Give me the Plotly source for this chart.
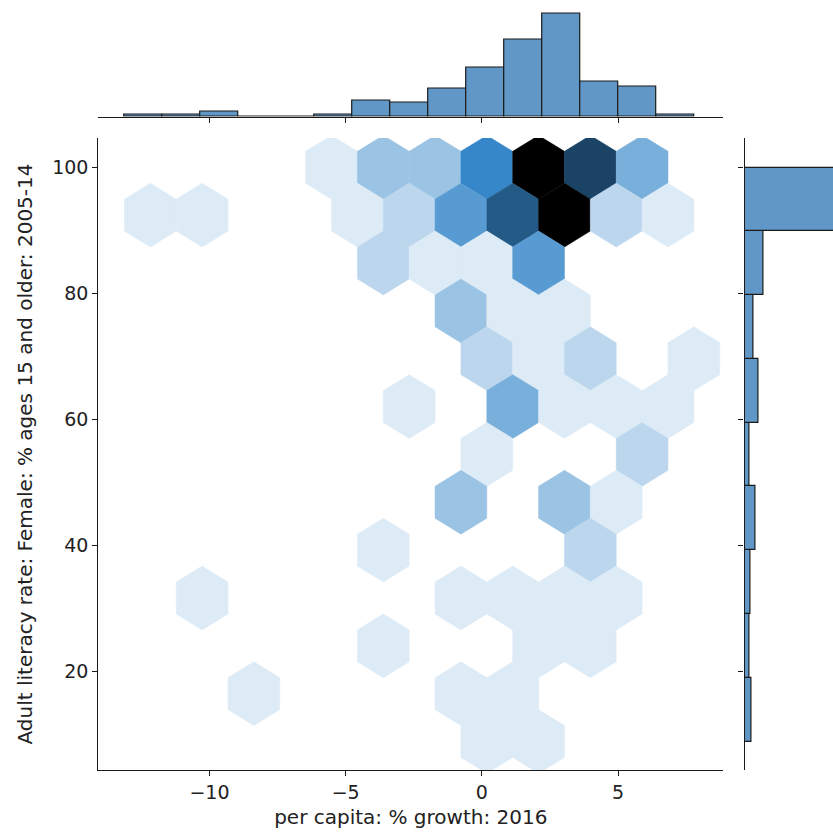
import colorsys
import plotly.graph_objects as go

# ---------------- data ----------------
# Marginal histogram of x (per capita % growth 2016)
x_bin_edges = [-13.12, -11.73, -10.33, -8.94, -7.55, -6.15, -4.76, -3.37,
               -1.97, -0.58, 0.81, 2.21, 3.60, 4.99, 6.39, 7.78]
x_bin_counts = [1, 1, 2, 0, 0, 1, 7, 6, 12, 21, 33, 44, 15, 13, 1]

# Marginal histogram of y (female adult literacy rate)
y_bin_edges = [8.9, 19.02, 29.13, 39.25, 49.37, 59.48, 69.60, 79.72, 89.83, 99.95]
y_bin_counts = [6, 4, 5, 10, 4, 12, 8, 17, 91]

# Hexbin cells: centre x, centre y, count
hex_x = [
    -5.52, -3.62, -1.72, 0.18, 2.08, 3.98, 5.88,                       # y=100
    -12.17, -10.27, -4.57, -2.67, -0.77, 1.13, 3.03, 4.93, 6.83,       # y=92.4
    -3.62, -1.72, 0.18, 2.08,                                          # y=84.8
    -0.77, 1.13, 3.03,                                                 # y=77.2
    0.18, 2.08, 3.98, 7.78,                                            # y=69.6
    -2.67, 1.13, 3.03, 4.93, 6.83,                                     # y=62.0
    0.18, 5.88,                                                        # y=54.5
    -0.77, 3.03, 4.93,                                                 # y=46.9
    -3.62, 3.98,                                                       # y=39.3
    -10.27, -0.77, 1.13, 3.03, 4.93,                                   # y=31.7
    -3.62, 2.08, 3.98,                                                 # y=24.1
    -8.37, -0.77, 1.13,                                                # y=16.5
    0.18, 2.08,                                                        # y=8.9
]
hex_y = (
    [100.0] * 7 + [92.41] * 9 + [84.82] * 4 + [77.22] * 3 + [69.63] * 4 +
    [62.04] * 5 + [54.45] * 2 + [46.86] * 3 + [39.27] * 2 + [31.67] * 5 +
    [24.08] * 3 + [16.49] * 3 + [8.9] * 2
)
hex_count = [
    1, 3, 3, 6, 12, 9, 4,
    1, 1, 1, 2, 5, 8, 12, 2, 1,
    2, 1, 1, 5,
    3, 1, 1,
    2, 1, 2, 1,
    1, 4, 1, 1, 1,
    1, 2,
    3, 3, 1,
    1, 2,
    1, 1, 1, 1, 1,
    1, 1, 1,
    1, 1, 1,
    1, 1,
]

x_title = "per capita: % growth: 2016"
y_title = "Adult literacy rate: Female: % ages 15 and older: 2005-14"
x_ticks = [-10, -5, 0, 5]
y_ticks = [20, 40, 60, 80, 100]

# ---------------- styling ----------------
HEX_W = 1.90      # hexagon width in x units
HEX_H = 15.18     # lattice step in y units (vertex offset = HEX_H/3)
HUE = 207 / 360
SAT = 0.58
FONT = "DejaVu Sans"
FS = 20
TXT = "#222222"
AX = "#1a1a1a"
BAR_FILL = "rgb(96,151,198)"


def cmap(t):
    rr, gg, bb = colorsys.hls_to_rgb(HUE, 1 - t, SAT)
    return "rgb(%d,%d,%d)" % (round(rr * 255), round(gg * 255), round(bb * 255))


vmax = max(hex_count)
fig = go.Figure()

offs = [(0.5, -0.5), (0.5, 0.5), (0, 1), (-0.5, 0.5), (-0.5, -0.5), (0, -1), (0.5, -0.5)]
for cx, cy, c in zip(hex_x, hex_y, hex_count):
    col = cmap(c / vmax)
    fig.add_trace(go.Scatter(
        x=[cx + dx * HEX_W for dx, dy in offs],
        y=[cy + dy * HEX_H / 3 for dx, dy in offs],
        mode="lines", fill="toself", fillcolor=col,
        line=dict(color=col, width=0.5),
        hoverinfo="skip", showlegend=False, xaxis="x", yaxis="y"))

# top marginal histogram
xc = [(a + b) / 2 for a, b in zip(x_bin_edges[:-1], x_bin_edges[1:])]
xw = [b - a for a, b in zip(x_bin_edges[:-1], x_bin_edges[1:])]
fig.add_trace(go.Bar(x=xc, y=x_bin_counts, width=xw,
                     marker=dict(color=BAR_FILL, line=dict(color=AX, width=1.2)),
                     xaxis="x2", yaxis="y2", showlegend=False, hoverinfo="skip"))

# right marginal histogram
yc = [(a + b) / 2 for a, b in zip(y_bin_edges[:-1], y_bin_edges[1:])]
yw = [b - a for a, b in zip(y_bin_edges[:-1], y_bin_edges[1:])]
fig.add_trace(go.Bar(y=yc, x=y_bin_counts, width=yw, orientation="h",
                     marker=dict(color=BAR_FILL, line=dict(color=AX, width=1.2)),
                     xaxis="x3", yaxis="y3", showlegend=False, hoverinfo="skip"))

W, H = 833, 835
jx0, jx1 = 98.3 / W, 723.3 / W
jy0, jy1 = 1 - 770 / H, 1 - 138 / H

line_common = dict(showgrid=False, zeroline=False, showline=True, linecolor=AX,
                   linewidth=1.2, ticks="outside", ticklen=5, tickwidth=1.2,
                   tickcolor=AX)
tickfont = dict(family=FONT, size=FS - 1, color=TXT)

fig.update_layout(
    width=W, height=H, margin=dict(l=0, r=0, t=0, b=0),
    paper_bgcolor="white", plot_bgcolor="rgba(0,0,0,0)",
    font=dict(family=FONT, size=FS, color=TXT),
    bargap=0,
    xaxis=dict(domain=[jx0, jx1], range=[-14.08, 8.86], tickvals=x_ticks,
               anchor="y", tickfont=tickfont,
               title=dict(text=x_title, font=dict(family=FONT, size=FS, color=TXT), standoff=8),
               **line_common),
    yaxis=dict(domain=[jy0, jy1], range=[4.38, 104.65], tickvals=y_ticks,
               anchor="x", tickfont=tickfont,
               title=dict(text=y_title, font=dict(family=FONT, size=FS, color=TXT), standoff=14),
               **line_common),
    xaxis2=dict(domain=[jx0, jx1], matches="x", anchor="y2", tickvals=x_ticks,
                showticklabels=False, **line_common),
    yaxis2=dict(domain=[1 - 116.7 / H, 1 - 8.6 / H], range=[0, 46.2], anchor="x2",
                visible=False),
    xaxis3=dict(domain=[744.5 / W, 1.0], range=[0, 78], anchor="y3", visible=False),
    yaxis3=dict(domain=[jy0, jy1], matches="y", anchor="x3", tickvals=y_ticks,
                showticklabels=False, **line_common),
)

fig.write_html("out.html")
